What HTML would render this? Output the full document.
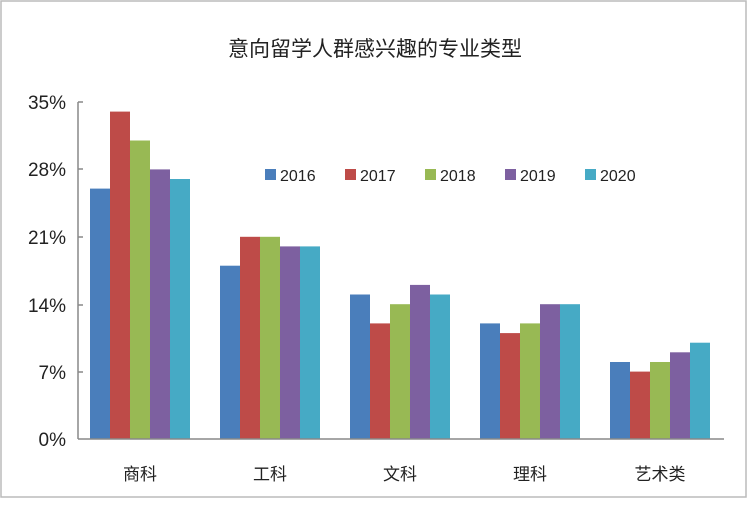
<!DOCTYPE html><html><head><meta charset="utf-8"><style>body{margin:0;background:#fff}</style></head><body>
<svg width="750" height="503" xmlns="http://www.w3.org/2000/svg" font-family="Liberation Sans, Noto Sans CJK SC, sans-serif">
<rect x="0" y="0" width="750" height="503" fill="#fff"/>
<rect x="1" y="1" width="745" height="496" fill="none" stroke="#bbb" stroke-width="1.5"/>
<text x="375" y="56" text-anchor="middle" font-size="21" fill="#222">意向留学人群感兴趣的专业类型</text>
<g>
<rect x="90" y="188.6" width="20" height="250.4" fill="#4a7ebb"/><rect x="110" y="111.6" width="20" height="327.4" fill="#be4b48"/><rect x="130" y="140.5" width="20" height="298.5" fill="#98b954"/><rect x="150" y="169.4" width="20" height="269.6" fill="#7d60a0"/><rect x="170" y="179" width="20" height="260" fill="#46aac5"/>
<rect x="220" y="265.7" width="20" height="173.3" fill="#4a7ebb"/><rect x="240" y="236.8" width="20" height="202.2" fill="#be4b48"/><rect x="260" y="236.8" width="20" height="202.2" fill="#98b954"/><rect x="280" y="246.4" width="20" height="192.6" fill="#7d60a0"/><rect x="300" y="246.4" width="20" height="192.6" fill="#46aac5"/>
<rect x="350" y="294.5" width="20" height="144.5" fill="#4a7ebb"/><rect x="370" y="323.4" width="20" height="115.6" fill="#be4b48"/><rect x="390" y="304.2" width="20" height="134.8" fill="#98b954"/><rect x="410" y="284.9" width="20" height="154.1" fill="#7d60a0"/><rect x="430" y="294.5" width="20" height="144.5" fill="#46aac5"/>
<rect x="480" y="323.4" width="20" height="115.6" fill="#4a7ebb"/><rect x="500" y="333.1" width="20" height="105.9" fill="#be4b48"/><rect x="520" y="323.4" width="20" height="115.6" fill="#98b954"/><rect x="540" y="304.2" width="20" height="134.8" fill="#7d60a0"/><rect x="560" y="304.2" width="20" height="134.8" fill="#46aac5"/>
<rect x="610" y="362" width="20" height="77" fill="#4a7ebb"/><rect x="630" y="371.6" width="20" height="67.4" fill="#be4b48"/><rect x="650" y="362" width="20" height="77" fill="#98b954"/><rect x="670" y="352.3" width="20" height="86.7" fill="#7d60a0"/><rect x="690" y="342.7" width="20" height="96.3" fill="#46aac5"/>
</g>
<g stroke="#888" stroke-width="1.5" fill="none">
<line x1="78" y1="102" x2="78" y2="439"/><line x1="78" y1="439" x2="724" y2="439"/>
<line x1="78" y1="102" x2="83" y2="102"/><line x1="78" y1="169" x2="83" y2="169"/><line x1="78" y1="237" x2="83" y2="237"/><line x1="78" y1="305" x2="83" y2="305"/><line x1="78" y1="372" x2="83" y2="372"/>
</g>
<g font-size="19" fill="#222" text-anchor="end">
<text x="66" y="109">35%</text><text x="66" y="176">28%</text><text x="66" y="244">21%</text><text x="66" y="312">14%</text><text x="66" y="379">7%</text><text x="66" y="446">0%</text>
</g>
<g font-size="17" fill="#222" text-anchor="middle">
<text x="140" y="480">商科</text><text x="270" y="480">工科</text><text x="400" y="480">文科</text><text x="530" y="480">理科</text><text x="660" y="480">艺术类</text>
</g>
<g font-size="16" fill="#222">
<rect x="265" y="169" width="11" height="11" fill="#4a7ebb"/><text x="280" y="181">2016</text>
<rect x="345" y="169" width="11" height="11" fill="#be4b48"/><text x="360" y="181">2017</text>
<rect x="425" y="169" width="11" height="11" fill="#98b954"/><text x="440" y="181">2018</text>
<rect x="505" y="169" width="11" height="11" fill="#7d60a0"/><text x="520" y="181">2019</text>
<rect x="585" y="169" width="11" height="11" fill="#46aac5"/><text x="600" y="181">2020</text>
</g>
</svg></body></html>
